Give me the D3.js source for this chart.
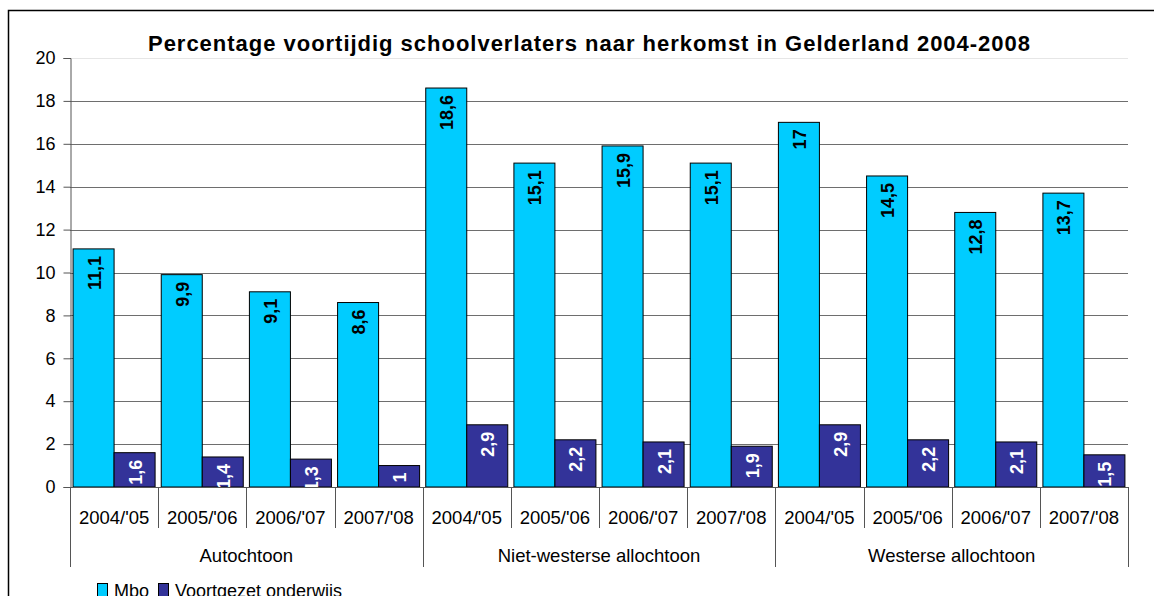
<!DOCTYPE html>
<html>
<head>
<meta charset="utf-8">
<title>Voortijdig schoolverlaters Gelderland</title>
<script src="https://cdn.jsdelivr.net/npm/d3@7"></script>
<style>
  body { margin: 0; background: #fff; }
  text { font-family: "Liberation Sans", Arial, sans-serif; }
</style>
</head>
<body>
<div id="chart"></div>
<script>
// data
var groups = ["Autochtoon", "Niet-westerse allochtoon", "Westerse allochtoon"];
var years = ["2004/'05", "2005/'06", "2006/'07", "2007/'08"];
var mbo = [11.1, 9.9, 9.1, 8.6, 18.6, 15.1, 15.9, 15.1, 17, 14.5, 12.8, 13.7];
var vo = [1.6, 1.4, 1.3, 1, 2.9, 2.2, 2.1, 1.9, 2.9, 2.2, 2.1, 1.5];
var seriesNames = ["Mbo", "Voortgezet onderwijs"];
var yTicks = [0, 2, 4, 6, 8, 10, 12, 14, 16, 18, 20];

var width = 1154, height = 596;
var plotLeft = 70, plotRight = 1128, plotTop = 58, plotBottom = 487;

var svg = d3.select("#chart").append("svg")
  .attr("width", width).attr("height", height);

// outer frame
svg.append("rect")
  .attr("x", 8.5).attr("y", 10.5)
  .attr("width", 1160).attr("height", 620)
  .attr("fill", "none").attr("stroke", "#000").attr("stroke-width", 1.5);

var cats = d3.range(mbo.length);
var x = d3.scaleBand().domain(cats).range([plotLeft, plotRight]);
var inner = d3.scaleBand().domain([0, 1]).range([0, x.bandwidth()])
  .paddingInner(0).paddingOuter(0.075);
var y = d3.scaleLinear().domain([0, 20]).range([plotBottom, plotTop]);

// grid
svg.append("g").selectAll("line")
  .data(yTicks.filter(function (d) { return d > 0; }))
  .enter().append("line")
  .attr("x1", plotLeft).attr("x2", plotRight)
  .attr("y1", function (d) { return Math.round(y(d)) + 0.5; })
  .attr("y2", function (d) { return Math.round(y(d)) + 0.5; })
  .attr("stroke", function (d) { return d == 20 ? "#e6e6e6" : "#6e6e6e"; })
  .attr("stroke-width", 1);

// y axis
var yAxis = svg.append("g")
  .attr("transform", "translate(" + (plotLeft + 0.5) + ",0)")
  .call(d3.axisLeft(y).tickValues(yTicks).tickSize(7).tickPadding(8).tickFormat(d3.format("d")));
yAxis.select(".domain").attr("stroke", "#555");
yAxis.selectAll(".tick line").attr("stroke", "#555");
yAxis.selectAll("text").attr("font-size", 18).attr("fill", "#000")
  .attr("font-family", "Liberation Sans, Arial, sans-serif");

var colors = ["#00ccff", "#333399"];
var labelColors = ["#000", "#fff"];
var series = [mbo, vo];

series.forEach(function (vals, s) {
  var g = svg.append("g");
  g.selectAll("rect").data(vals).enter().append("rect")
    .attr("x", function (d, i) { return x(i) + inner(s); })
    .attr("y", function (d) { return y(d); })
    .attr("width", inner.bandwidth())
    .attr("height", function (d) { return y(0) - y(d); })
    .attr("fill", colors[s])
    .attr("stroke", "#000").attr("stroke-width", 1);
  g.selectAll("text").data(vals).enter().append("text")
    .attr("transform", function (d, i) {
      var cx = x(i) + inner(s) + inner.bandwidth() / 2 + 7;
      return "translate(" + cx + "," + (y(d) + 7) + ") rotate(-90)";
    })
    .attr("text-anchor", "end")
    .attr("font-size", 18).attr("font-weight", "bold")
    .attr("fill", labelColors[s])
    .text(function (d) { return String(d).replace(".", ","); });
});

// x axis baseline
svg.append("line")
  .attr("x1", plotLeft).attr("x2", plotRight)
  .attr("y1", plotBottom + 0.5).attr("y2", plotBottom + 0.5)
  .attr("stroke", "#555");

// category separators (year level and group level)
var sepX = d3.range(mbo.length + 1).map(function (i) { return plotLeft + i * x.step(); });
svg.append("g").selectAll("line").data(sepX).enter().append("line")
  .attr("x1", function (d) { return Math.round(d) + 0.5; })
  .attr("x2", function (d) { return Math.round(d) + 0.5; })
  .attr("y1", plotBottom).attr("y2", function (d, i) { return i % 4 == 0 ? 567 : 528; })
  .attr("stroke", "#555");

svg.append("g").selectAll("text").data(cats).enter().append("text")
  .attr("x", function (d) { return x(d) + x.bandwidth() / 2; })
  .attr("y", 524)
  .attr("text-anchor", "middle")
  .attr("font-size", 18.5)
  .text(function (d) { return years[d % years.length]; });

svg.append("g").selectAll("text").data(groups).enter().append("text")
  .attr("x", function (d, i) { return plotLeft + (i * 4 + 2) * x.step(); })
  .attr("y", 562)
  .attr("text-anchor", "middle")
  .attr("font-size", 18.5)
  .text(function (d) { return d; });

// title
svg.append("text")
  .attr("x", 148).attr("y", 51)
  .attr("font-size", 22).attr("font-weight", "bold")
  .attr("textLength", 882).attr("lengthAdjust", "spacing")
  .text("Percentage voortijdig schoolverlaters naar herkomst in Gelderland 2004-2008");

// legend
var legX = [97, 158];
var leg = svg.append("g").selectAll("g").data(seriesNames).enter().append("g");
leg.append("rect")
  .attr("x", function (d, i) { return legX[i] + 0.5; }).attr("y", 583.5)
  .attr("width", 10).attr("height", 14)
  .attr("fill", function (d, i) { return colors[i]; })
  .attr("stroke", "#000");
leg.append("text")
  .attr("x", function (d, i) { return legX[i] + 17; }).attr("y", 597)
  .attr("font-size", 18)
  .text(function (d) { return d; });
</script>
</body>
</html>
